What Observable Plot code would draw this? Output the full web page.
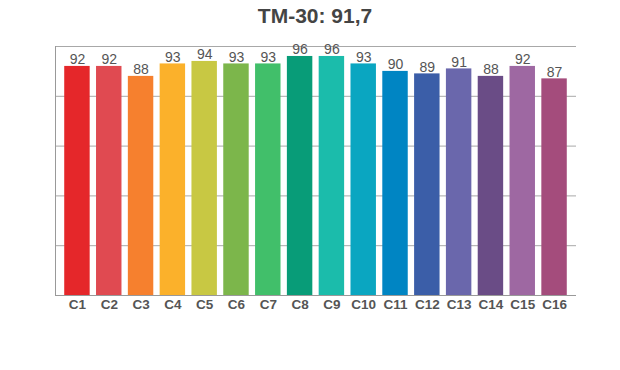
<!DOCTYPE html>
<html>
<head>
<meta charset="utf-8">
<script src="https://cdn.jsdelivr.net/npm/d3@7"></script>
<script src="https://cdn.jsdelivr.net/npm/@observablehq/plot@0.6"></script>
<style>
  body { margin: 0; background: #fff; font-family: "Liberation Sans", Arial, Helvetica, sans-serif; }
  #title { width: 620px; box-sizing: border-box; padding-left: 10px; padding-top: 5px; height: 36px;
           text-align: center; font-size: 21px; line-height: 1; font-weight: bold; color: #444; }
</style>
</head>
<body>
<div id="title">TM-30: 91,7</div>
<div id="chart"></div>
<script>
const categories = ["C1","C2","C3","C4","C5","C6","C7","C8","C9","C10","C11","C12","C13","C14","C15","C16"];
const values = [92, 92, 88, 93, 94, 93, 93, 96, 96, 93, 90, 89, 91, 88, 92, 87];
const colors = ["#e5272a","#e04a51","#f6802e","#fbb12b","#c8c843","#7cb64b","#41bf6a","#089c78",
                "#1bbcab","#0aa6c1","#0085c3","#3b5ea8","#6a67ac","#6a4c86","#9e68a2","#a44c7c"];
const gridValues = [20, 40, 60, 80, 100];

const data = categories.map((c, i) => ({cat: c, value: values[i], color: colors[i]}));

const chart = Plot.plot({
  width: 620,
  height: 334,
  marginTop: 10,
  marginBottom: 75,
  marginLeft: 55,
  marginRight: 44,
  style: {fontFamily: '"Liberation Sans", Arial, Helvetica, sans-serif', background: "#fff"},
  x: {domain: categories, paddingInner: 0.2, paddingOuter: 0.29, round: false, label: null},
  y: {domain: [0, 100], label: null},
  marks: [
    Plot.ruleY(gridValues, {stroke: "#a8a8a8", strokeWidth: 1}),
    Plot.barY(data, {x: "cat", y: "value", fill: "color"}),
    Plot.text(data, {x: "cat", y: "value", text: d => String(d.value), lineAnchor: "bottom", dy: -2,
                     fontSize: 14, fill: "#555"}),
    Plot.ruleY([0], {stroke: "#999", strokeWidth: 1}),
    Plot.frame({anchor: "left", stroke: "#999"}),
    Plot.axisX({tickSize: 0, tickPadding: 4, fontSize: 13.5, fontWeight: "bold", color: "#555"}),
    Plot.axisY({ticks: [], tickSize: 0, label: null})
  ]
});
document.getElementById("chart").appendChild(chart);
</script>
</body>
</html>
